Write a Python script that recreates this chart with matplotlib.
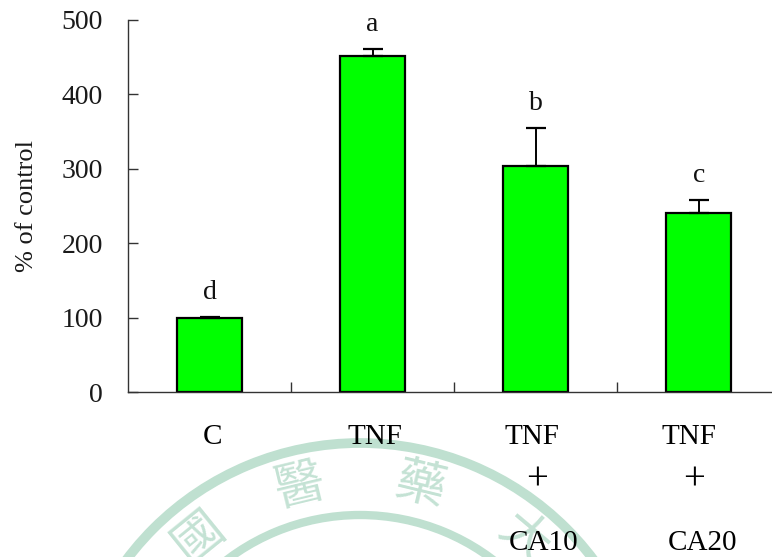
import numpy as np
import matplotlib
matplotlib.use("Agg")
import matplotlib.pyplot as plt
from matplotlib.patches import Arc
from matplotlib.transforms import blended_transform_factory

# ---- data -------------------------------------------------------------
groups = ["C", "TNF", "TNF+CA10", "TNF+CA20"]
means = [100, 451, 304, 240]
errors = [1, 10, 51, 18]
letters = ["d", "a", "b", "c"]

label_line1 = ["C", "TNF", "TNF", "TNF"]
label_line2 = ["", "", "+", "+"]
label_line3 = ["", "", "CA10", "CA20"]

y_ticks = [0, 100, 200, 300, 400, 500]
y_label = "% of control"

seal_chars = ["國", "醫", "藥", "大"]
seal_angles = [39, 13.6, -13.6, -40]

# ---- figure -----------------------------------------------------------
W, H = 772, 557
DPI = 100
plt.rcParams["font.family"] = ["Liberation Serif", "DejaVu Serif"]

fig = plt.figure(figsize=(W / DPI, H / DPI), dpi=DPI)

# background seal stamp (pixel coordinates, y downwards)
bg = fig.add_axes([0, 0, 1, 1], zorder=-1)
bg.set_xlim(0, W)
bg.set_ylim(H, 0)
bg.axis("off")
seal_cx, seal_cy = 360, 735
seal_col = "#bfe0d0"
for r, lw in [(292, 7.0), (220, 6.0)]:
    bg.add_patch(Arc((seal_cx, seal_cy), 2 * r, 2 * r, theta1=0, theta2=360,
                     color=seal_col, lw=lw))
char_r = 256
for ch, ang in zip(seal_chars, seal_angles):
    a = np.deg2rad(ang)
    cx = seal_cx - char_r * np.sin(a)
    cy = seal_cy - char_r * np.cos(a)
    bg.text(cx, cy, ch, fontsize=36, color="#c4e2d4", rotation=ang,
            ha="center", va="center", rotation_mode="anchor",
            family=["Noto Sans CJK TC", "DejaVu Sans"])

# main bar chart
left, right = 128, 780.4
top, bottom = 19.7, 392.3
ax = fig.add_axes([left / W, 1 - bottom / H, (right - left) / W, (bottom - top) / H])
ax.set_facecolor("none")

x = np.arange(len(groups))
ax.bar(x, means, width=0.40, color="#00ff00", edgecolor="black",
       linewidth=1.6, zorder=2)
ax.errorbar(x, means, yerr=[np.zeros(len(errors)), errors], fmt="none",
            ecolor="black", elinewidth=1.4, capsize=7, capthick=1.6, zorder=3)

for xi, m, e, lt in zip(x, means, errors, letters):
    ax.annotate(lt, (xi, m + e), xytext=(0, 13), textcoords="offset points",
                ha="center", va="baseline", fontsize=20, color="#111111")

ax.set_xlim(-0.5, len(groups) - 0.5)
ax.set_ylim(0, 500)
ax.set_yticks(y_ticks)
ax.set_yticklabels([str(v) for v in y_ticks], fontsize=20, color="#1a1a1a")
ax.set_xticks(np.arange(len(groups) - 1) + 0.5)
ax.set_xticklabels([])
ax.tick_params(axis="y", direction="in", length=7.2, width=1.0,
               color="#333333", pad=18)
ax.tick_params(axis="x", direction="in", length=7.2, width=1.0,
               color="#333333")
for s in ["top", "right"]:
    ax.spines[s].set_visible(False)
for s in ["left", "bottom"]:
    ax.spines[s].set_color("#333333")
    ax.spines[s].set_linewidth(1.0)

ax.set_ylabel(y_label, fontsize=19, color="#1a1a1a", labelpad=17)

# three-row category labels below the axis
trans = blended_transform_factory(ax.transData, fig.transFigure)
row_offsets = [
    [0.02, 0.015, -0.025, -0.06],
    [0.0, 0.0, 0.01, -0.03],
    [0.0, 0.0, 0.05, 0.02],
]
row_baselines = [444, 490, 550]
row_sizes = [21, 28, 21]
for rows, offs, yb, fs in zip([label_line1, label_line2, label_line3],
                              row_offsets, row_baselines, row_sizes):
    for xi, txt, dx in zip(x, rows, offs):
        if txt:
            ax.text(xi + dx, 1 - yb / H, txt, transform=trans, ha="center",
                    va="baseline", fontsize=fs, color="black", clip_on=False)

fig.savefig("out.png", dpi=DPI)
